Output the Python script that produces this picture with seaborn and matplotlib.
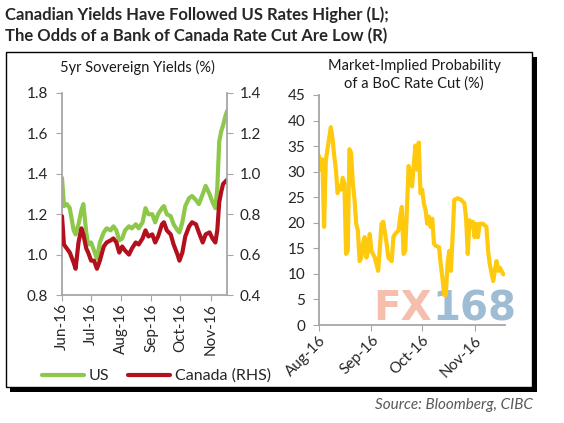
import matplotlib
matplotlib.use("Agg")
import matplotlib.pyplot as plt
import matplotlib.dates as mdates
import pandas as pd
import seaborn as sns
from matplotlib.patches import Rectangle

# left panel: 5yr sovereign yields (US on left axis, Canada on right axis)
yield_dates = ["2016-06-01", "2016-06-03", "2016-06-06", "2016-06-09", "2016-06-13", "2016-06-15",
               "2016-06-18", "2016-06-21", "2016-06-23", "2016-06-26", "2016-06-28", "2016-07-01",
               "2016-07-04", "2016-07-07", "2016-07-10", "2016-07-14", "2016-07-17", "2016-07-21",
               "2016-07-24", "2016-07-27", "2016-07-30", "2016-08-02", "2016-08-05", "2016-08-09",
               "2016-08-12", "2016-08-16", "2016-08-19", "2016-08-23", "2016-08-26", "2016-08-29",
               "2016-09-02", "2016-09-05", "2016-09-08", "2016-09-12", "2016-09-14", "2016-09-17",
               "2016-09-21", "2016-09-24", "2016-09-28", "2016-09-30", "2016-10-03", "2016-10-06",
               "2016-10-10", "2016-10-13", "2016-10-17", "2016-10-20", "2016-10-24", "2016-10-27",
               "2016-10-31", "2016-11-03", "2016-11-06", "2016-11-08", "2016-11-10", "2016-11-12",
               "2016-11-14", "2016-11-16", "2016-11-18"]
us_5yr = [1.38, 1.24, 1.25, 1.23, 1.12, 1.10, 1.15, 1.22, 1.25, 1.11,
          1.05, 1.06, 1.02, 0.98, 1.06, 1.11, 1.13, 1.12, 1.14, 1.12,
          1.07, 1.08, 1.12, 1.14, 1.13, 1.15, 1.13, 1.16, 1.23, 1.20,
          1.20, 1.16, 1.20, 1.23, 1.24, 1.20, 1.19, 1.15, 1.12, 1.11,
          1.16, 1.24, 1.28, 1.29, 1.27, 1.25, 1.30, 1.34, 1.30, 1.26,
          1.23, 1.33, 1.56, 1.61, 1.64, 1.68, 1.71]
canada_5yr = [0.79, 0.65, 0.63, 0.61, 0.56, 0.53, 0.66, 0.73, 0.70, 0.63,
              0.61, 0.57, 0.57, 0.53, 0.57, 0.64, 0.66, 0.67, 0.68, 0.66,
              0.61, 0.64, 0.62, 0.60, 0.63, 0.66, 0.65, 0.68, 0.72, 0.69,
              0.70, 0.66, 0.69, 0.75, 0.76, 0.72, 0.70, 0.65, 0.60, 0.57,
              0.61, 0.69, 0.74, 0.76, 0.75, 0.71, 0.66, 0.70, 0.71, 0.68,
              0.66, 0.72, 0.86, 0.91, 0.95, 0.96, 0.97]

# right panel: market-implied probability of a BoC cut (%)
prob_dates = ["2016-08-01", "2016-08-02", "2016-08-03", "2016-08-04", "2016-08-05", "2016-08-06",
              "2016-08-08", "2016-08-09", "2016-08-10", "2016-08-11", "2016-08-12", "2016-08-13",
              "2016-08-14", "2016-08-15", "2016-08-16", "2016-08-17", "2016-08-18", "2016-08-19",
              "2016-08-20", "2016-08-21", "2016-08-22", "2016-08-23", "2016-08-24", "2016-08-25",
              "2016-08-26", "2016-08-27", "2016-08-28", "2016-08-29", "2016-08-30", "2016-08-31",
              "2016-09-01", "2016-09-03", "2016-09-04", "2016-09-05", "2016-09-07", "2016-09-08",
              "2016-09-10", "2016-09-11", "2016-09-13", "2016-09-14", "2016-09-15", "2016-09-17",
              "2016-09-18", "2016-09-19", "2016-09-20", "2016-09-21", "2016-09-23", "2016-09-24",
              "2016-09-25", "2016-09-27", "2016-09-28", "2016-09-29", "2016-09-30", "2016-10-01",
              "2016-10-02", "2016-10-03", "2016-10-04", "2016-10-05", "2016-10-06", "2016-10-07",
              "2016-10-08", "2016-10-09", "2016-10-11", "2016-10-12", "2016-10-13", "2016-10-14",
              "2016-10-15", "2016-10-16", "2016-10-17", "2016-10-18", "2016-10-19", "2016-10-20",
              "2016-10-22", "2016-10-24", "2016-10-26", "2016-10-27", "2016-10-28", "2016-10-29",
              "2016-10-30", "2016-10-31", "2016-11-01", "2016-11-02", "2016-11-03", "2016-11-04",
              "2016-11-05", "2016-11-06", "2016-11-08", "2016-11-09", "2016-11-10", "2016-11-12",
              "2016-11-13", "2016-11-14", "2016-11-15", "2016-11-16", "2016-11-18"]
boc_cut_prob = [33.1, 30.4, 32.4, 19.2, 32.1, 34.4, 38.7, 36.4, 33.1, 30.4,
                25.8, 27.1, 26.5, 28.8, 27.8, 13.9, 14.5, 34.4, 33.7, 27.8,
                24.5, 19.8, 18.5, 12.5, 13.2, 15.9, 17.2, 13.2, 14.5, 17.8,
                14.5, 13.2, 11.9, 10.6, 19.8, 20.2, 15.9, 13.2, 12.5, 17.2,
                17.8, 18.5, 21.2, 23.1, 13.9, 14.5, 31.1, 29.1, 27.1, 35.1,
                30.4, 35.7, 25.8, 26.5, 23.8, 22.5, 19.8, 21.2, 19.2, 20.8,
                15.9, 15.5, 15.2, 11.9, 9.2, 5.9, 5.9, 11.9, 14.5, 10.6,
                17.2, 24.5, 24.8, 24.5, 23.8, 20.8, 13.9, 20.5, 19.2, 20.2,
                17.2, 19.8, 17.2, 19.8, 19.8, 19.8, 19.2, 14.5, 11.9, 8.6,
                10.6, 12.5, 10.6, 11.2, 9.9]

GREEN = "#8dc84a"
RED = "#b3101e"
YELLOW = "#ffc90e"
GREY = "#a6a6a6"

sns.set_style("white")
plt.rcParams['font.family'] = ['Lato', 'DejaVu Sans']

W, H = 564, 423
fx = lambda x: x / W
fy = lambda y: 1 - y / H

fig = plt.figure(figsize=(5.64, 4.23), dpi=100)

# framed box with drop shadow
fig.add_artist(Rectangle((fx(10), fy(392)), fx(537) - fx(10), fy(57) - fy(392),
                         transform=fig.transFigure, facecolor="black", edgecolor="none", zorder=-3))
fig.add_artist(Rectangle((fx(5.5), fy(387)), fx(532) - fx(5.5), fy(52) - fy(387),
                         transform=fig.transFigure, facecolor="white", edgecolor="black",
                         lw=1.0, zorder=-2))

# watermark sits behind the plot lines
fig.text(fx(432), fy(309), "FX", fontsize=29, fontweight="bold", family="DejaVu Sans",
         color="#f4ae98", alpha=0.8, ha="right", va="center", zorder=-1)
fig.text(fx(432), fy(309), "168", fontsize=29, fontweight="bold", family="DejaVu Sans",
         color="#86abc9", alpha=0.8, ha="left", va="center", zorder=-1)

ax1 = fig.add_axes([fx(62), fy(295), fx(227) - fx(62), fy(93) - fy(295)])
ax1r = ax1.twinx()
ax2 = fig.add_axes([fx(319), fy(325), fx(505) - fx(319), fy(95) - fy(325)])
for a in (ax1, ax1r, ax2):
    a.set_facecolor("none")

df_y = pd.DataFrame({"date": pd.to_datetime(yield_dates), "US": us_5yr, "Canada": canada_5yr})
df_p = pd.DataFrame({"date": pd.to_datetime(prob_dates), "prob": boc_cut_prob})

sns.lineplot(data=df_y, x="date", y="US", ax=ax1, color=GREEN, lw=3.0, label="US", legend=False)
sns.lineplot(data=df_y, x="date", y="Canada", ax=ax1r, color=RED, lw=3.0, label="Canada (RHS)", legend=False)
sns.lineplot(data=df_p, x="date", y="prob", ax=ax2, color=YELLOW, lw=3.0, legend=False)

ax1.set_ylim(0.8, 1.8)
ax1.set_yticks([0.8, 1.0, 1.2, 1.4, 1.6, 1.8])
ax1.yaxis.set_major_formatter(matplotlib.ticker.FormatStrFormatter("%.1f"))
ax1r.set_ylim(0.4, 1.4)
ax1r.set_yticks([0.4, 0.6, 0.8, 1.0, 1.2, 1.4])
ax1r.yaxis.set_major_formatter(matplotlib.ticker.FormatStrFormatter("%.1f"))
ax1.set_xlim(pd.Timestamp("2016-06-01"), pd.Timestamp("2016-11-18"))
ax1.xaxis.set_major_locator(mdates.MonthLocator())
ax1.xaxis.set_major_formatter(mdates.DateFormatter("%b-%y"))

ax2.set_ylim(0, 45)
ax2.set_yticks(range(0, 46, 5))
ax2.set_xlim(pd.Timestamp("2016-08-01"), pd.Timestamp("2016-11-19"))
ax2.xaxis.set_major_locator(mdates.MonthLocator())
ax2.xaxis.set_major_formatter(mdates.DateFormatter("%b-%y"))

for a in (ax1, ax1r, ax2):
    a.set_xlabel("")
    a.set_ylabel("")
    for s in a.spines.values():
        s.set_visible(False)
        s.set_color(GREY)
        s.set_linewidth(1.3)

ax1.spines["left"].set_visible(True)
ax1.spines["bottom"].set_visible(True)
ax1r.spines["right"].set_visible(True)
ax2.spines["left"].set_visible(True)
ax2.spines["bottom"].set_visible(True)

ax1.tick_params(axis="y", left=True, direction="out", length=4, color=GREY, labelsize=11, pad=6)
ax1.tick_params(axis="x", bottom=True, direction="out", length=4, color=GREY, labelsize=11,
                pad=2, labelrotation=90)
ax1r.tick_params(axis="y", right=True, direction="out", length=4, color=GREY, labelsize=11, pad=5)
ax2.tick_params(axis="y", left=True, direction="out", length=4, color=GREY, labelsize=11, pad=6)
ax2.tick_params(axis="x", bottom=True, direction="out", length=4, color=GREY, labelsize=11, pad=2)
for lbl in ax2.get_xticklabels():
    lbl.set_rotation(45)
    lbl.set_ha("right")
    lbl.set_rotation_mode("anchor")

# titles
fig.text(fx(5), fy(15), "Canadian Yields Have Followed US Rates Higher (L);",
         fontsize=12, fontweight="bold", color="#262626", ha="left", va="center")
fig.text(fx(5), fy(36), "The Odds of a Bank of Canada Rate Cut Are Low (R)",
         fontsize=12, fontweight="bold", color="#262626", ha="left", va="center")
fig.text(fx(137), fy(67), "5yr Sovereign Yields (%)", fontsize=10.5, ha="center", va="center",
         color="#1a1a1a")
fig.text(fx(414), fy(75), "Market-Implied Probability\nof a BoC Rate Cut (%)", fontsize=10.5,
         ha="center", va="center", color="#1a1a1a", linespacing=1.25)

# legend
handles = [ax1.get_lines()[0], ax1r.get_lines()[0]]
fig.legend(handles=handles, labels=["US", "Canada (RHS)"], loc="center left",
           bbox_to_anchor=(fx(28), fy(376)), ncol=2, frameon=False, fontsize=11.5,
           handlelength=2.6, handletextpad=0.3, columnspacing=1.2)

fig.text(fx(533), fy(405), "Source: Bloomberg, CIBC", fontsize=11, style="italic",
         color="#595959", ha="right", va="center")

fig.savefig("out.png", dpi=100)
